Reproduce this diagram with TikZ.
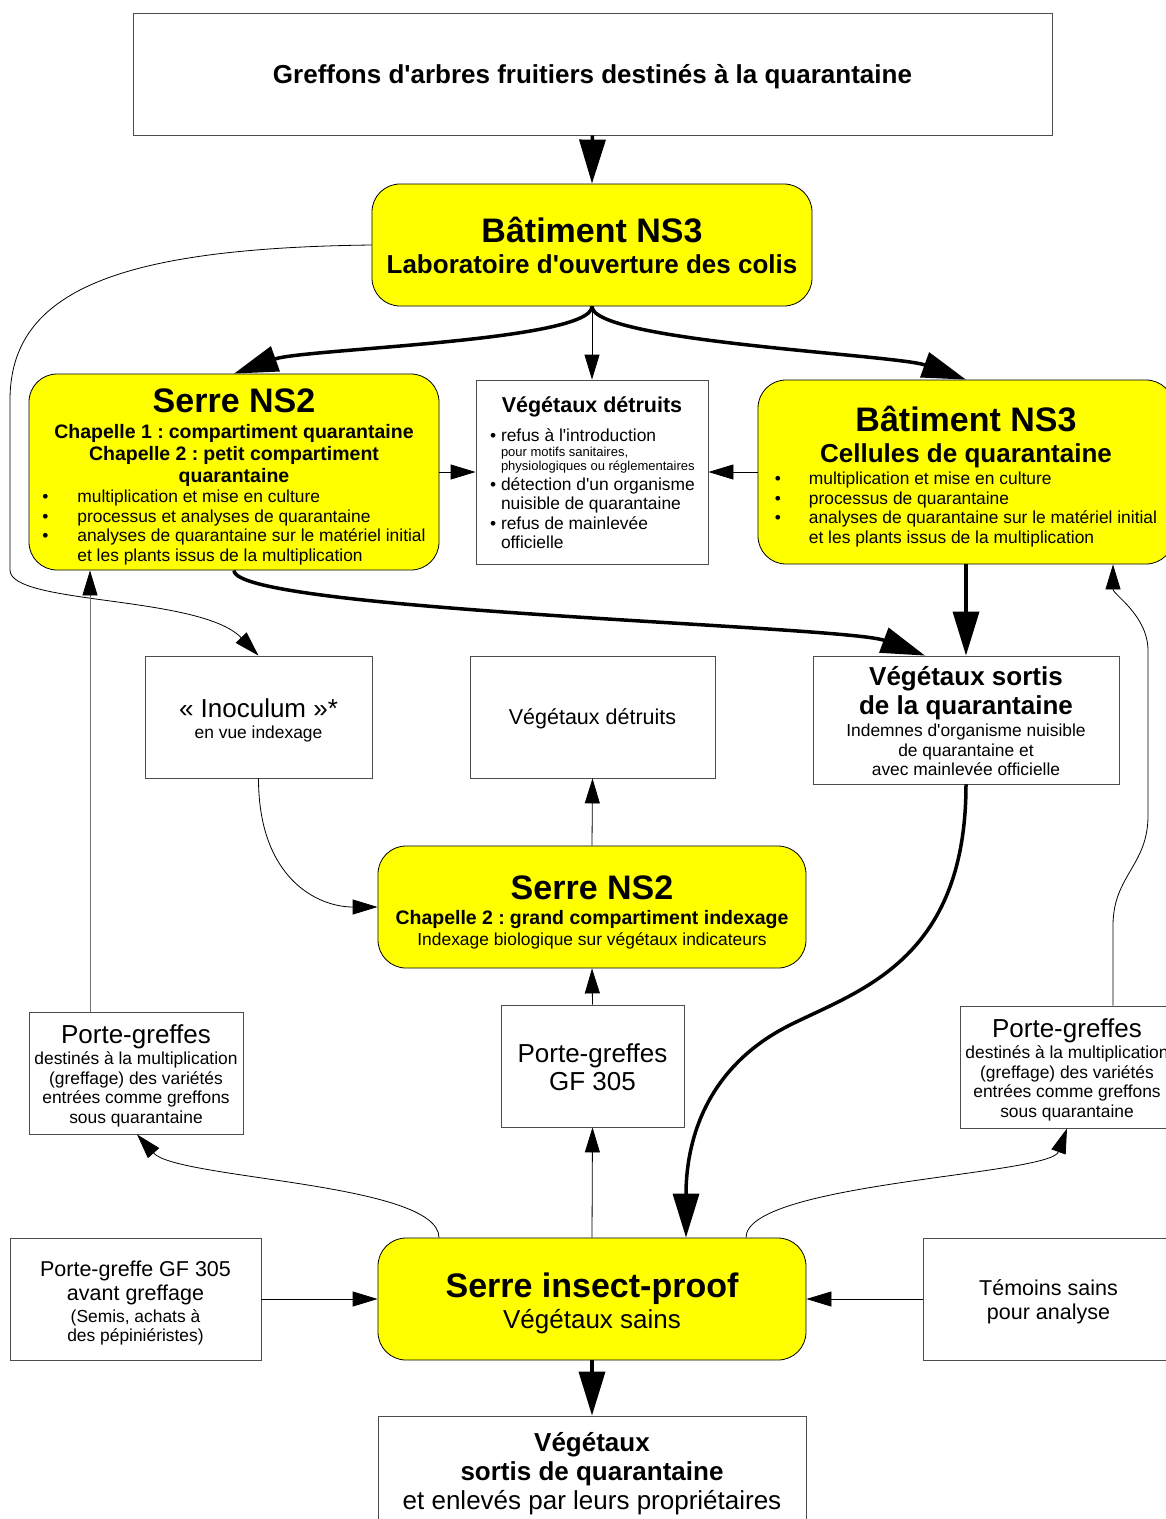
\documentclass[tikz,border=0pt]{standalone}
\usepackage{fontspec}
\setmainfont{Liberation Sans}[Ligatures=TeXOff]
\usetikzlibrary{arrows.meta}
\setlength{\parindent}{0pt}
\hyphenpenalty=10000
\definecolor{boxyellow}{RGB}{255,255,0}
\newcommand{\fsz}[2]{\fontsize{#1}{#2}\selectfont\spaceskip=\fontdimen2\font\relax}
\newcommand{\itembullet}{\makebox[11pt][l]{\textbullet}}
\newcommand{\textnudge}[1]{\par\kern#1\hrule height0pt depth0pt width0pt\relax}
\tikzset{
  yellowbox/.style={draw=black,fill=boxyellow,rounded corners=28pt,line width=0.8pt,align=center,inner sep=0pt},
  whitebox/.style={draw=black!70,fill=white,line width=0.8pt,align=center,inner sep=0pt},
  thinarrow/.style={-{Triangle[length=25pt,width=15pt]},line width=0.8pt},
  greyarrow/.style={-{Triangle[length=25pt,width=15pt,color=black]},line width=0.8pt,draw=black!55},
  thickarrow/.style={-{Triangle[length=44pt,width=26pt]},line width=3.5pt},
}
\begin{document}
\begin{tikzpicture}[x=1pt,y=-1pt]
	\useasboundingbox (0,0) rectangle (1166,1519);
	% boxes
	\node[whitebox,minimum width=919pt,minimum height=122pt,text width=900pt] (top) at (592.5,74)
		{\fsz{26}{30}\bfseries Greffons d'arbres fruitiers destinés à la quarantaine\textnudge{-6pt}};
	\node[yellowbox,minimum width=440pt,minimum height=122pt,text width=420pt] (ns3a) at (592,245)
		{{\fsz{34}{38}\bfseries Bâtiment NS3\par}\fsz{26}{31}\bfseries Laboratoire d'ouverture des colis\par};
	\node[yellowbox,minimum width=410pt,minimum height=196pt,text width=400pt] (ns2a) at (234,472)
		{{\fsz{34}{38}\bfseries Serre NS2\par}\vskip4pt
		{\fsz{19.5}{22}\bfseries Chapelle 1 : compartiment quarantaine\par Chapelle 2 : petit compartiment\par quarantaine\par}
		\vskip1pt\fsz{17.4}{19.5}\begin{tabular}[t]{@{}p{35pt}@{}l@{}}
		\textbullet & multiplication et mise en culture\\
		\textbullet & processus et analyses de quarantaine\\
		\textbullet & analyses de quarantaine sur le matériel initial\\
		 & et les plants issus de la multiplication
		\end{tabular}\textnudge{-12pt}};
	\node[whitebox,minimum width=232pt,minimum height=184pt,text width=204pt,align=left] (detr1) at (592,472)
		{{\centering\fsz{21.5}{24}\bfseries Végétaux détruits\par}\vskip9.5pt
		\fsz{17.4}{19.5}\itembullet\mbox{refus à l'introduction}\par
		{\fsz{13}{14.5}\hspace*{11pt}\mbox{pour motifs sanitaires,}\par\hspace*{11pt}\mbox{physiologiques ou réglementaires}\par}
		\itembullet\mbox{détection d'un organisme}\par
		\hspace*{11pt}\mbox{nuisible de quarantaine}\par
		\itembullet\mbox{refus de mainlevée}\par
		\hspace*{11pt}officielle\textnudge{-2pt}};
	\node[yellowbox,minimum width=416pt,minimum height=184pt,text width=400pt] (ns3b) at (966,472)
		{{\fsz{34}{38}\bfseries Bâtiment NS3\par}{\fsz{26}{31}\bfseries Cellules de quarantaine\par}
		\vskip2.5pt\fsz{17.4}{19.5}\begin{tabular}[t]{@{}p{34pt}@{}l@{}}
		\textbullet & multiplication et mise en culture\\
		\textbullet & processus de quarantaine\\
		\textbullet & analyses de quarantaine sur le matériel initial\\
		 & et les plants issus de la multiplication
		\end{tabular}\textnudge{-11pt}};
	\node[whitebox,minimum width=227pt,minimum height=122pt,text width=210pt] (inoc) at (258.5,717)
		{{\fsz{26}{30}« Inoculum »*\par}\fsz{17.4}{21}en vue indexage\textnudge{-6pt}};
	\node[whitebox,minimum width=245pt,minimum height=122pt,text width=230pt] (detr2) at (592.5,717)
		{\fsz{21.5}{24}Végétaux détruits\textnudge{-6pt}};
	\node[whitebox,minimum width=306pt,minimum height=128pt,text width=290pt] (sortis) at (966,720)
		{{\fsz{26}{29}\bfseries Végétaux sortis\par de la quarantaine\par}\vskip2.5pt
		\fsz{17.4}{19.5}Indemnes d'organisme nuisible\par de quarantaine et\par avec mainlevée officielle\textnudge{-3pt}};
	\node[yellowbox,minimum width=428pt,minimum height=122pt,text width=410pt] (ns2b) at (592,907)
		{{\fsz{34}{38}\bfseries Serre NS2\par}{\fsz{19.5}{25}\bfseries Chapelle 2 : grand compartiment indexage\par}
		\fsz{17.4}{21}Indexage biologique sur végétaux indicateurs\textnudge{-11pt}};
	\node[whitebox,minimum width=214pt,minimum height=122pt,text width=210pt] (pgl) at (136,1073)
		{{\fsz{26}{30}Porte-greffes\par}\fsz{17.4}{19.5}\vskip1.5pt destinés à la multiplication\par (greffage) des variétés\par entrées comme greffons\par sous quarantaine\textnudge{-6pt}};
	\node[whitebox,minimum width=183pt,minimum height=122pt,text width=170pt] (gf) at (592.5,1066)
		{\fsz{26}{28}Porte-greffes\par GF 305\textnudge{-2pt}};
	\node[whitebox,minimum width=214pt,minimum height=122pt,text width=210pt] (pgr) at (1067,1067)
		{{\fsz{26}{30}Porte-greffes\par}\fsz{17.4}{19.5}\vskip1.5pt destinés à la multiplication\par (greffage) des variétés\par entrées comme greffons\par sous quarantaine\textnudge{-6pt}};
	\node[whitebox,minimum width=251pt,minimum height=122pt,text width=240pt] (gfav) at (135.5,1299)
		{{\fsz{21.5}{24}Porte-greffe GF 305\par avant greffage\par}\vskip2.5pt\fsz{17.4}{19.5}(Semis, achats à\par des pépiniéristes)\textnudge{-8pt}};
	\node[yellowbox,minimum width=428pt,minimum height=122pt,text width=410pt] (ip) at (592,1299)
		{{\fsz{34}{38}\bfseries Serre insect-proof\par}\fsz{26}{31}Végétaux sains\textnudge{-8pt}};
	\node[whitebox,minimum width=251pt,minimum height=122pt,text width=240pt] (tem) at (1048.5,1299)
		{\fsz{21.5}{24}Témoins sains\par pour analyse\textnudge{-6pt}};
	\node[whitebox,minimum width=428pt,minimum height=122pt,text width=420pt] (out) at (592,1477)
		{{\fsz{26}{29}\bfseries Végétaux\par sortis de quarantaine\par}\fsz{26}{29}et enlevés par leurs propriétaires\textnudge{6pt}};
	% connectors
	\coordinate (pgltop) at ([xshift=-46pt]pgl.north);
	\coordinate (pgrtop) at ([xshift=46pt]pgr.north);
	\draw[thickarrow] (top.south)--(ns3a.north);
	\draw[thickarrow] (ns3a.south) .. controls +(0,35) and +(70,-25) .. (ns2a.north);
	\draw[thickarrow] (ns3a.south) .. controls +(0,35) and +(-70,-25) .. (ns3b.north);
	\draw[thinarrow] (ns3a.south)--(detr1.north);
	\draw[thinarrow] (ns3a.west) .. controls (120,248) and (10,290) .. (10,400)--(10,570) .. controls (10,605) and (200,595) .. (inoc.north);
	\draw[thinarrow] (ns2a.east)--(detr1.west);
	\draw[thinarrow] (ns3b.west)--(detr1.east);
	\draw[thickarrow] (ns2a.south) .. controls +(0,40) and +(-80,-30) .. ([xshift=-41pt]sortis.north);
	\draw[thickarrow] (ns3b.south)--(ns3b.south |- sortis.north);
	\draw[thinarrow] (inoc.south) .. controls +(0,100) and +(-60,0) .. (ns2b.west);
	\draw[thinarrow] (ns2b.north)--(detr2.south);
	\draw[thickarrow] (sortis.south) .. controls (966,960) and (860,990) .. (790,1025) .. controls (700,1070) and (686,1150) .. ([xshift=94pt]ip.north);
	\draw[greyarrow] (pgltop)--(pgltop |- ns2a.south);
	\draw[thinarrow] (gf.north)--(ns2b.south);
	\draw[thinarrow] (ip.north)--(gf.south);
	\draw[thinarrow] ([xshift=-153pt]ip.north) .. controls +(0,-55) and +(40,45) .. ([xshift=1pt]pgl.south);
	\draw[thinarrow] ([xshift=154pt]ip.north) .. controls +(0,-55) and +(-17,47) .. (pgr.south);
	\draw[thinarrow] (pgrtop)--++(0,-80) .. controls +(0,-50) and +(0,50) .. ++(35,-110)--++(0,-165) .. controls +(0,-35) and +(0,30) .. (pgrtop |- ns3b.south);
	\draw[thinarrow] (gfav.east)--(ip.west);
	\draw[thinarrow] (tem.west)--(ip.east);
	\draw[thickarrow] (ip.south)--(out.north);
\end{tikzpicture}
\end{document}
